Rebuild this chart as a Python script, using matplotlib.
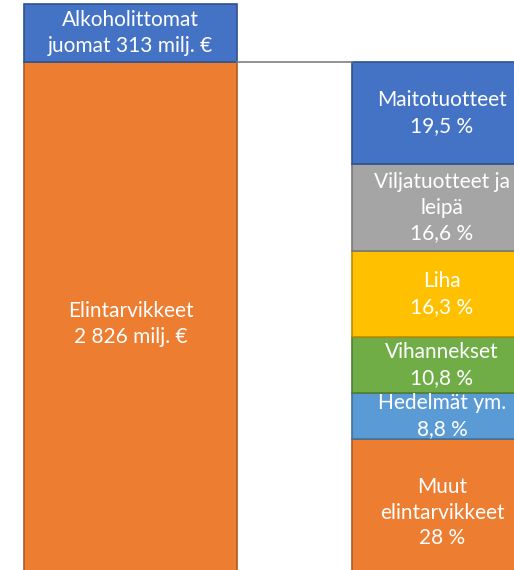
import matplotlib
matplotlib.use("Agg")
import matplotlib.pyplot as plt

# Pääryhmät (milj. €), alhaalta ylös
paaryhmat = ["Elintarvikkeet\n2 826 milj. €", "Alkoholittomat\njuomat 313 milj. €"]
arvot = [2826, 313]
varit = ["#ED7D31", "#4472C4"]
reunat = ["#AE5A21", "#2F528F"]

# Elintarvikkeiden jakauma (%), alhaalta ylös
alaryhmat = ["Muut\nelintarvikkeet", "Hedelmät ym.", "Vihannekset", "Liha",
             "Viljatuotteet ja\nleipä", "Maitotuotteet"]
osuudet = [28, 8.8, 10.8, 16.3, 16.6, 19.5]
alavarit = ["#ED7D31", "#5B9BD5", "#70AD47", "#FFC000", "#A5A5A5", "#4472C4"]
alareunat = ["#AE5A21", "#41719C", "#507E32", "#BC8C00", "#787878", "#2F528F"]

plt.rcParams['font.family'] = ['Lato', 'DejaVu Sans']

fig = plt.figure(figsize=(5.14, 5.70), dpi=100)
ax = fig.add_axes([0, 0, 1, 1])
ax.set_xlim(0, 514)
ax.set_ylim(86, 3161)
ax.axis("off")

# vasen pylväs
pohja = 0
for nimi, arvo, vari, reuna in zip(paaryhmat, arvot, varit, reunat):
    ax.bar(24, arvo, width=213, bottom=pohja, align="edge",
           color=vari, edgecolor=reuna, linewidth=1.2)
    ax.text(24 + 213 / 2, pohja + arvo / 2, nimi, ha="center", va="center",
            color="white", fontsize=15, linespacing=1.35)
    pohja += arvo

# oikea pylväs, skaalattu elintarvikkeiden summaan
kokonais = arvot[0]
pohja = 0
for nimi, osuus, vari, reuna in zip(alaryhmat, osuudet, alavarit, alareunat):
    korkeus = kokonais * osuus / 100
    ax.bar(352, korkeus, width=200, bottom=pohja, align="edge",
           color=vari, edgecolor=reuna, linewidth=1.2)
    teksti = nimi + "\n" + f"{osuus:g}".replace(".", ",") + " %"
    ax.text(442, pohja + korkeus / 2, teksti, ha="center", va="center",
            color="white", fontsize=15, linespacing=1.35)
    pohja += korkeus

# yhdysviiva
ax.plot([237, 352], [kokonais, kokonais], color="#7F7F7F", linewidth=1.2)

fig.savefig("out.png", dpi=100)
